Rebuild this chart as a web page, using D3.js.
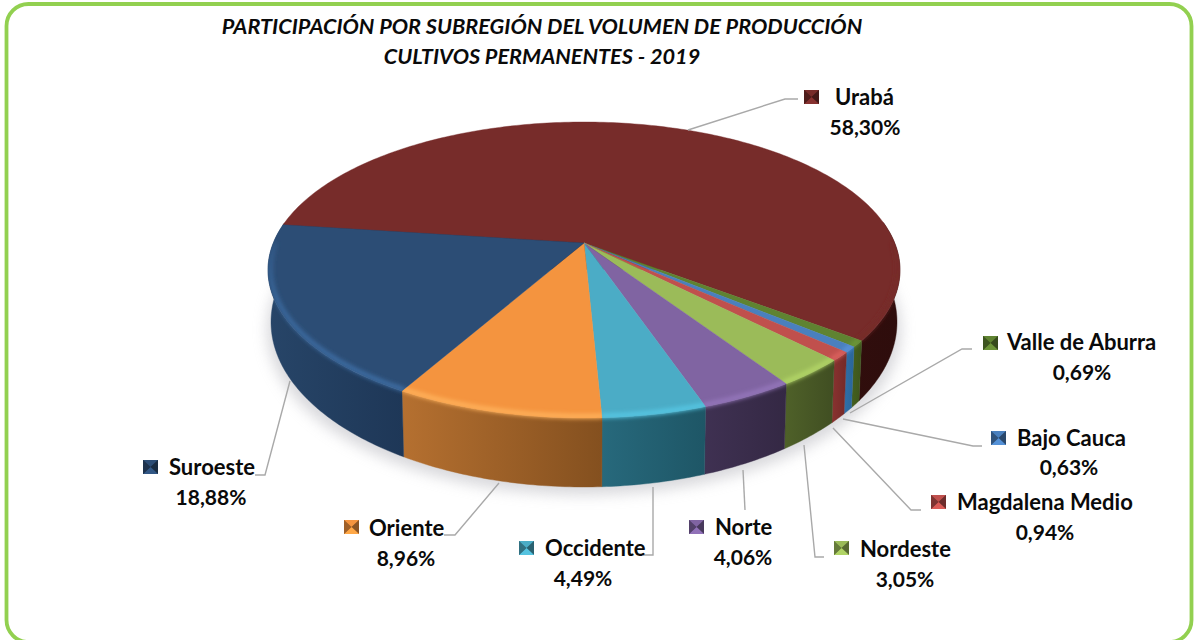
<!DOCTYPE html>
<html><head><meta charset="utf-8">
<script src="https://cdn.jsdelivr.net/npm/d3@7"></script>
<style>html,body{margin:0;padding:0;background:#fff}svg{display:block}
text{font-family:Lato,"Open Sans",sans-serif;font-weight:700;fill:#0a0a0a}</style>
</head><body><svg id="c" width="1195" height="640"></svg>
<script>
// ---- data ----
const categories = ["Urabá","Valle de Aburra","Bajo Cauca","Magdalena Medio","Nordeste","Norte","Occidente","Oriente","Suroeste"];
const shares = [58.30,0.69,0.63,0.94,3.05,4.06,4.49,8.96,18.88];
const titleLines = ["PARTICIPACIÓN POR SUBREGIÓN DEL VOLUMEN DE PRODUCCIÓN","CULTIVOS PERMANENTES - 2019"];
// ---- styles ----
const topColors  = ["#772C2A","#5F8331","#4A80BE","#C0504D","#9BBB59","#8064A2","#4BACC6","#F4943F","#2C4D75"];
const wallLight  = ["#4a1614","#45601f","#2F6FA8","#8A3230","#4F6129","#3F3152","#27697C","#B57030","#274568"];
const wallDark   = ["#2e0d0c","#3d551c","#2A659A","#742A28","#404E22","#342844","#1E5666","#84501F","#1E3757"];
const rimColors  = ["#772C2A","#6F9A3A","#5C95DC","#DE6360","#B4D768","#9577BC","#57C7E4","#FFB25C","#3F6FA6"];
// ---- layout (pixels) ----
const topE = {cx:584, cy:270, rx:316, ry:148};
const botE = {cx:584, cy:322, rx:313, ry:165};
const apexOffset = -27/148;
const startDeg = -82.5;
const labels = [
 {key:[804,90], tx:835, ty:97,  vx:865,  vy:127, line:[[688,130],[785,99],[798,99]]},
 {key:[983,336],tx:1007,ty:342, vx:1082, vy:372, line:[[850,413],[962,349],[972,349]]},
 {key:[991,431],tx:1017,ty:438, vx:1069, vy:467, line:[[843,419],[973,446],[982,446]]},
 {key:[931,495],tx:957, ty:502, vx:1045, vy:532, line:[[833,428],[911,510],[921,510]]},
 {key:[834,541],tx:860, ty:549, vx:905,  vy:579, line:[[804,445],[815,557],[824,557]]},
 {key:[689,520],tx:715, ty:527, vx:743,  vy:557, line:[[743,470],[745,510]]},
 {key:[519,541],tx:545, ty:548, vx:583,  vy:578, line:[[653,487],[653,555],[643,555]]},
 {key:[344,520],tx:369, ty:528, vx:406,  vy:558, line:[[499,483],[455,535],[444,535]]},
 {key:[143,460],tx:169, ty:467, vx:211,  vy:497, line:[[290,381],[265,475],[255,475]]}
];

const svg = d3.select("#c");
const defs = svg.append("defs");
const blur = (id,s)=>defs.append("filter").attr("id",id).attr("filterUnits","userSpaceOnUse")
  .attr("x",0).attr("y",0).attr("width",1195).attr("height",640)
  .append("feGaussianBlur").attr("stdDeviation",s);
blur("b2",2.2); blur("b7",7);

// frame
svg.append("rect").attr("x",6.5).attr("y",4).attr("width",1185).attr("height",638)
  .attr("rx",22).attr("fill","#fff").attr("stroke","#92D050").attr("stroke-width",3.8);

// pie layout: d3 angles, 0 = up, clockwise
const arcs = d3.pie().sort(null).value(d=>d)
   .startAngle(startDeg*Math.PI/180).endAngle(startDeg*Math.PI/180+2*Math.PI)(shares);

// perspective projection of the unit disc onto an ellipse, centre mapping to the apex
function proj(e,a,r=1){
  const u=r*Math.sin(a), v=-r*Math.cos(a), k=apexOffset, d=1+k*v;
  return [e.cx+e.rx*u*Math.sqrt(1-k*k)/d, e.cy+e.ry*(v+k)/d];
}
const line=d3.line();
const samples=(a0,a1,n=Math.max(6,Math.ceil((a1-a0)*60)))=>d3.range(n+1).map(i=>a0+(a1-a0)*i/n);

// ground shadow
svg.append("ellipse").attr("cx",botE.cx).attr("cy",botE.cy+8).attr("rx",botE.rx+4).attr("ry",botE.ry)
  .attr("fill","#b9b9c0").attr("opacity",.55).attr("filter","url(#b7)");

// walls
const wallsG=svg.append("g");
const wallD=[];
arcs.forEach((d,i)=>{
  const pts0=[], pts1=[];
  samples(d.startAngle,d.endAngle,Math.max(8,Math.ceil((d.endAngle-d.startAngle)*80))).forEach(a=>{
    if(Math.cos(a)<0.15){ pts0.push(proj(topE,a)); pts1.push(proj(botE,a)); }
  });
  if(pts0.length<2){ wallD[i]=""; return; }
  const xs=pts0.concat(pts1).map(p=>p[0]);
  const id="w"+i;
  const g=defs.append("linearGradient").attr("id",id).attr("gradientUnits","userSpaceOnUse")
    .attr("x1",d3.min(xs)).attr("x2",d3.max(xs)).attr("y1",0).attr("y2",0);
  g.append("stop").attr("offset",0).attr("stop-color",wallLight[i]);
  g.append("stop").attr("offset",1).attr("stop-color",wallDark[i]);
  wallD[i]=line(pts0.concat(pts1.slice().reverse()))+"Z";
  wallsG.append("path").attr("d",wallD[i])
    .attr("fill",`url(#${id})`).attr("stroke",`url(#${id})`).attr("stroke-width",.4);
});

// top faces
const apex=proj(topE,0,0);
const sliceD=d=>line([apex].concat(samples(d.startAngle,d.endAngle).map(a=>proj(topE,a))))+"Z";
svg.append("g").selectAll("path").data(arcs).join("path")
  .attr("d",sliceD).attr("fill",(d,i)=>topColors[i]).attr("stroke",(d,i)=>topColors[i]).attr("stroke-width",.4);

// soft bevel along the rim, kept inside each slice and its wall, fading towards the back
arcs.forEach((d,i)=>{
  const cid="cl"+i;
  const cp=defs.append("clipPath").attr("id",cid);
  cp.append("path").attr("d",sliceD(d));
  if(wallD[i]) cp.append("path").attr("d",wallD[i]);
  const outer=svg.append("g").attr("clip-path",`url(#${cid})`);
  const g=outer.append("g").attr("filter","url(#b2)");
  const s=samples(d.startAngle,d.endAngle);
  s.slice(1).forEach((a,j)=>{
    const front=-Math.cos((a+s[j])/2);
    if(front<=0) return;
    g.append("path").attr("d",line([proj(topE,s[j],0.992),proj(topE,a,0.992)]))
     .attr("fill","none").attr("stroke",rimColors[i]).attr("stroke-width",4.5)
     .attr("stroke-linecap","round").attr("opacity",Math.min(1,0.15+front));
  });
});

// title
svg.append("g").selectAll("text").data(titleLines).join("text")
  .attr("x",542).attr("y",(d,i)=>34+i*30).attr("text-anchor","middle")
  .attr("font-size",21.7).attr("font-style","italic").text(d=>d);

// leader lines
svg.append("g").selectAll("path").data(labels).join("path")
  .attr("d",d=>line(d.line)).attr("fill","none").attr("stroke","#a9a9a9").attr("stroke-width",1.4);

// labels & keys
const lg=svg.append("g").selectAll("g").data(categories).join("g");
lg.append("text").attr("x",(d,i)=>labels[i].tx).attr("y",(d,i)=>labels[i].ty+7.5).attr("font-size",22).text(d=>d);
lg.append("text").attr("x",(d,i)=>labels[i].vx).attr("y",(d,i)=>labels[i].vy+7.5).attr("text-anchor","middle").attr("font-size",21)
  .text((d,i)=>shares[i].toFixed(2).replace(".",",")+"%");
categories.forEach((c,i)=>{
  const [x,y]=labels[i].key, w=15, h=14, m=[x+w/2,y+h/2];
  const g=svg.append("g");
  const base=d3.color(topColors[i]);
  g.append("rect").attr("x",x).attr("y",y).attr("width",w).attr("height",h).attr("fill",base.darker(.6).formatHex());
  const tri=(a,b,col)=>g.append("path").attr("d",line([a,b,m])+"Z").attr("fill",col);
  tri([x,y],[x+w,y],base.formatHex());
  tri([x+w,y],[x+w,y+h],base.darker(1.6).formatHex());
  tri([x+w,y+h],[x,y+h],base.brighter(.35).formatHex());
  tri([x,y+h],[x,y],base.darker(1.2).formatHex());
});
</script></body></html>
